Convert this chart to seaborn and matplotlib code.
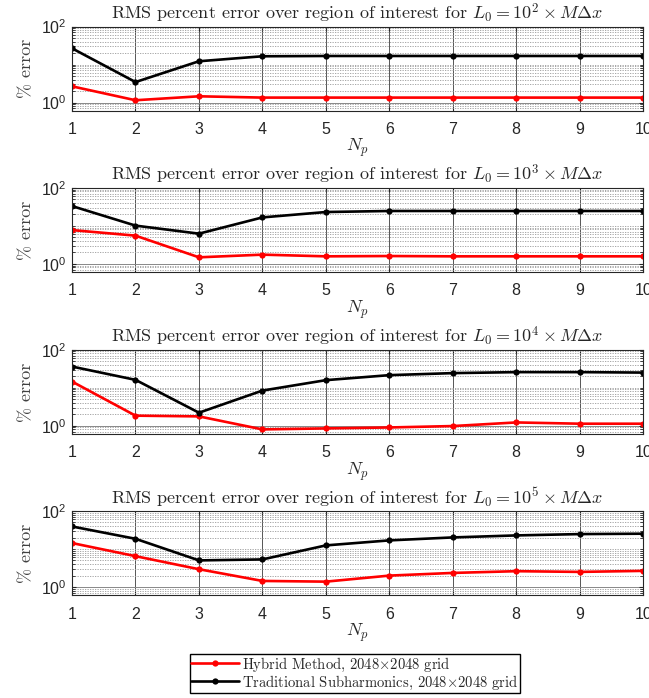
import numpy as np
import pandas as pd
import matplotlib
matplotlib.use('Agg')
import matplotlib.pyplot as plt
import seaborn as sns
from matplotlib.ticker import FixedLocator, LogLocator, NullFormatter

# values
n_p = [1, 2, 3, 4, 5, 6, 7, 8, 9, 10]
exponents = [2, 3, 4, 5]
methods = ['Hybrid Method, 2048$\\times$2048 grid',
           'Traditional Subharmonics, 2048$\\times$2048 grid']

hybrid_1e2 = [2.67, 1.15, 1.46, 1.35, 1.35, 1.35, 1.35, 1.35, 1.35, 1.35]
trad_1e2 = [26.7, 3.46, 12.2, 16.5, 16.8, 16.8, 16.8, 16.8, 16.8, 16.8]

hybrid_1e3 = [7.7, 5.5, 1.48, 1.74, 1.57, 1.6, 1.57, 1.57, 1.57, 1.57]
trad_1e3 = [33.0, 10.1, 6.2, 16.6, 23.0, 24.5, 24.5, 24.5, 24.5, 24.5]

hybrid_1e4 = [14.5, 1.84, 1.76, 0.80, 0.85, 0.90, 0.98, 1.22, 1.13, 1.13]
trad_1e4 = [36.0, 16.1, 2.2, 8.4, 15.8, 21.4, 24.2, 25.7, 25.7, 25.0]

hybrid_1e5 = [14.3, 6.46, 2.93, 1.44, 1.38, 1.99, 2.34, 2.6, 2.49, 2.65]
trad_1e5 = [39.0, 18.5, 5.0, 5.3, 12.4, 16.8, 20.1, 22.7, 24.6, 25.2]

panels = [(hybrid_1e2, trad_1e2), (hybrid_1e3, trad_1e3),
          (hybrid_1e4, trad_1e4), (hybrid_1e5, trad_1e5)]

sns.set_style('ticks')
plt.rcParams['font.family'] = ['Liberation Sans', 'DejaVu Sans']
plt.rcParams['mathtext.fontset'] = 'cm'
plt.rcParams['axes.unicode_minus'] = False

serif = 'cmr10'
gray_txt = '#262626'

fig = plt.figure(figsize=(6.49, 6.98), dpi=100)
left, width, height = 0.111, 0.880, 0.121
bottoms = [0.841, 0.610, 0.378, 0.147]

for i, (hyb, trad) in enumerate(panels):
    ax = fig.add_axes([left, bottoms[i], width, height])
    df = pd.DataFrame({
        'Np': n_p * 2,
        'error': hyb + trad,
        'method': [methods[0]] * len(n_p) + [methods[1]] * len(n_p),
    })
    sns.lineplot(data=df, x='Np', y='error', hue='method', hue_order=methods,
                 palette=['#ff0000', '#000000'], marker='o', markersize=4.5,
                 markeredgewidth=0, linewidth=1.9, ax=ax, legend=False)
    ax.set_yscale('log')
    ax.set_ylim(0.6, 100)
    ax.set_xlim(1, 10)
    ax.set_xticks(n_p)
    ax.yaxis.set_major_locator(FixedLocator([1, 100]))
    ax.yaxis.set_minor_locator(LogLocator(base=10, subs=np.arange(1, 10), numticks=20))
    ax.yaxis.set_minor_formatter(NullFormatter())
    ax.grid(True, which='major', axis='x', color='#555555', linewidth=0.7)
    ax.grid(True, which='major', axis='y', color='#888888', linewidth=0.7)
    ax.grid(True, which='minor', axis='y', color='#999999', linewidth=0.6,
            linestyle=(0, (1.5, 1.5)))
    ax.set_axisbelow(True)
    ax.tick_params(which='both', direction='in', top=True, right=True,
                   labelsize=11.5, labelcolor=gray_txt)
    ax.tick_params(which='major', length=3)
    ax.tick_params(which='minor', length=2)
    ax.tick_params(axis='x', pad=8)
    ax.tick_params(axis='y', pad=4)
    for s in ax.spines.values():
        s.set_color('#262626')
        s.set_linewidth(0.8)
    ax.set_title('RMS percent error over region of interest for '
                 '$L_0 = 10^{%d} \\times M\\Delta x$' % exponents[i],
                 fontfamily=serif, fontsize=13, pad=5)
    ax.set_xlabel('$N_p$', fontsize=13, labelpad=0)
    ax.set_ylabel('% error', fontfamily=serif, fontsize=13, color='#404040', labelpad=5)

fig.legend(handles=ax.lines[:2], labels=methods, loc='center',
           bbox_to_anchor=(0.547, 0.035), ncol=1,
           prop={'family': serif, 'size': 10.5},
           frameon=True, fancybox=False, edgecolor='black', framealpha=1,
           handlelength=3.3, labelspacing=0.0, borderpad=0.1,
           handletextpad=0.2)

fig.savefig('out.png', dpi=100)
